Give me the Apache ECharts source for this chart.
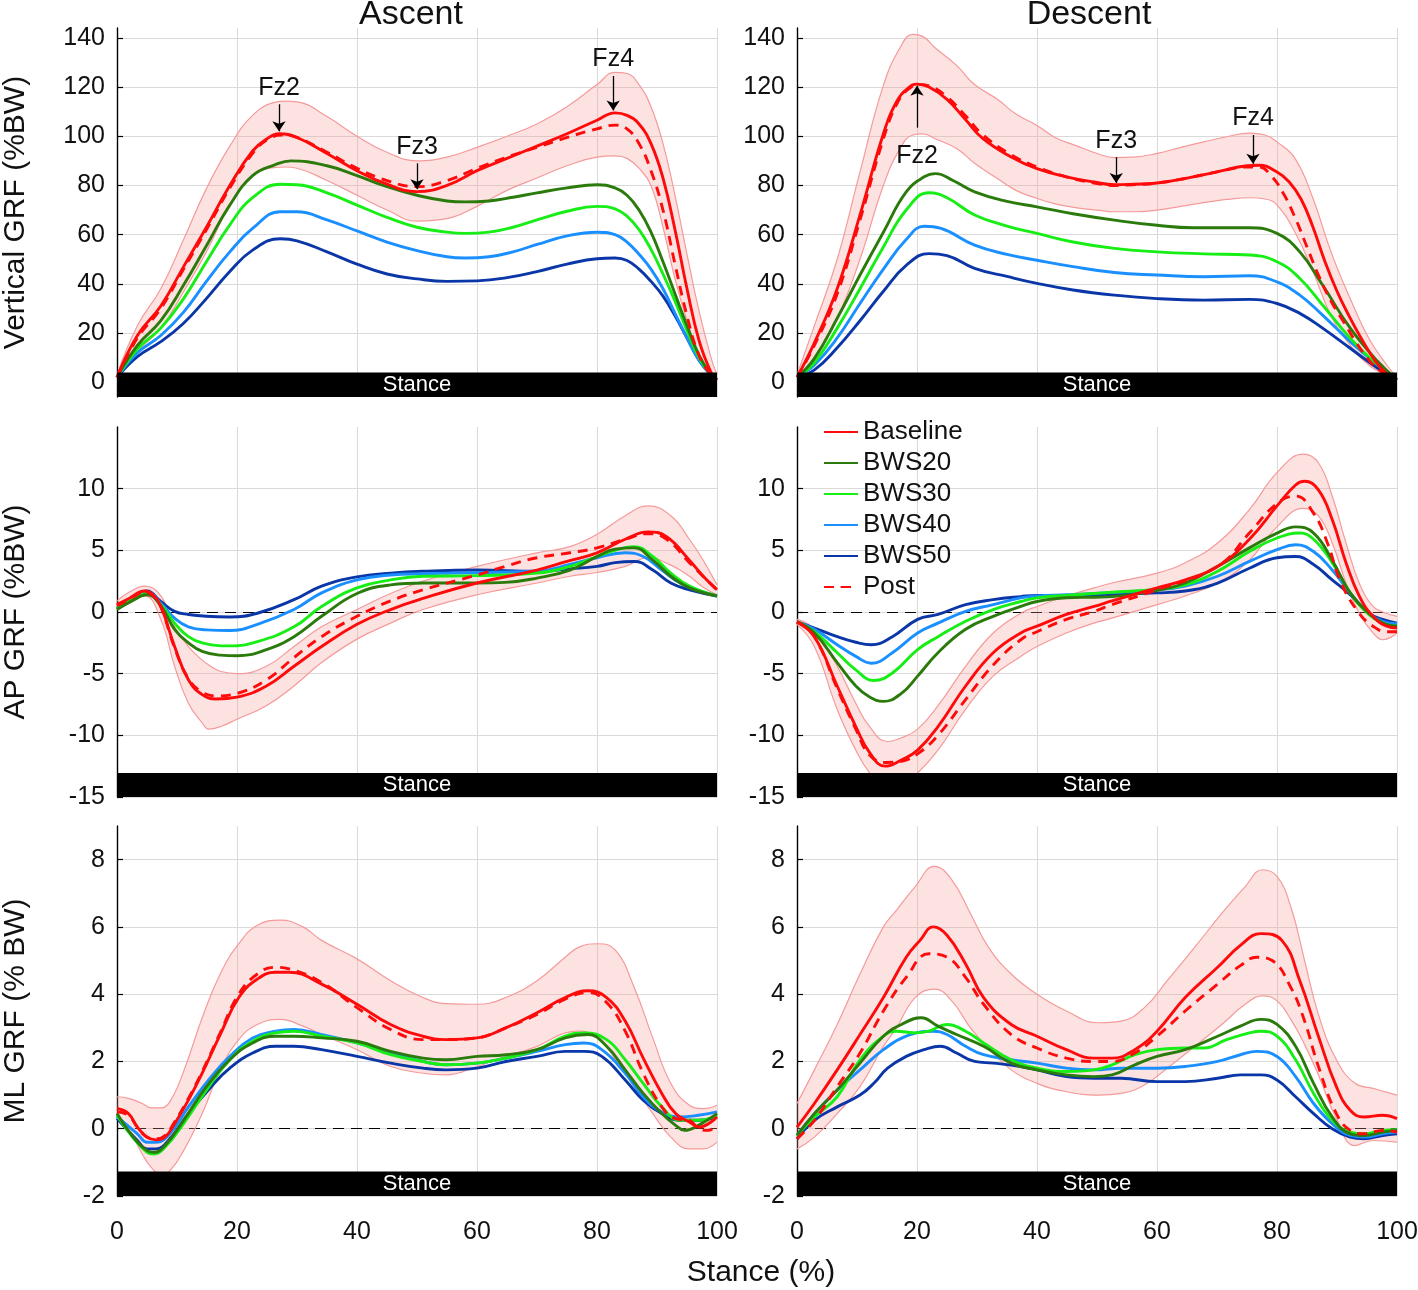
<!DOCTYPE html>
<html><head><meta charset="utf-8">
<script src="https://cdn.jsdelivr.net/npm/echarts@6/dist/echarts.min.js"></script>
<style>html,body{margin:0;padding:0;background:#fff}#c{width:1418px;height:1290px}</style>
</head><body><div id="c"></div>
<script>
// ---------- Vertical GRF, Ascent ----------
const vA_base = [[0,2],[3.4,19],[7.3,31],[11.1,47],[14.9,63],[18.8,80],[22.6,94],[25,99],[27,101],[30,99.5],[35,93],[40,86],[45,80.5],[50,77.5],[55,80],[60,86],[65,91],[70,96],[75,101],[80,106.5],[83,109.5],[85,108.5],[87,105],[89,97],[91,83],[93,62],[95,38],[97,17],[99,4],[100,1]];
const vA_post = [[0,2],[3.4,18],[7.3,30],[11.1,46],[14.9,62],[18.8,79],[22.6,93],[25,98.5],[27.5,100.5],[30,99.5],[35,93.5],[40,87],[45,82],[50,79.5],[55,82],[60,87],[65,91.5],[70,95.5],[75,99.5],[80,103],[83,104.5],[85,103],[87,97],[89,86],[91,70],[93,48],[95,27],[97,11],[99,3],[100,1]];
const vA_bws20 = [[0,2],[3.4,15],[7.3,25],[11.1,39.5],[14.9,55.5],[18.8,72],[22.6,84],[26.4,88.5],[29,90],[35,88],[40,84],[45,79.5],[50,76],[55,73.7],[58,73.3],[62,73.7],[66,75.2],[70,77],[75,79],[80,80.3],[83,79],[85,76],[87,70],[89,61],[91,49],[93,36],[95,23],[97,11],[99,3],[100,1]];
const vA_bws30 = [[0,2],[3.4,13.5],[7.3,22],[11.1,34],[14.9,49],[18.8,64],[22.6,75],[27.2,80.5],[30,80.3],[35,77],[40,72],[45,67],[50,63],[55,61],[58,60.5],[62,61],[66,63],[70,66],[75,69.5],[80,71.5],[83,70.5],[85,67.5],[87,62],[89,54],[91,44],[93,33],[95,21],[97,10],[99,3],[100,1]];
const vA_bws40 = [[0,2],[3.4,12],[7.3,19],[11.1,28.5],[14.9,41],[18.8,53],[22.6,62.5],[27.2,69.3],[30,69.3],[35,66],[40,61.5],[45,57],[50,53.5],[55,51],[58,50.5],[62,51],[66,53],[70,56],[75,59.5],[80,61],[83,60],[85,57],[87,52],[89,46],[91,38],[93,28],[95,18],[97,9],[99,3],[100,1]];
const vA_bws50 = [[0,2],[3.4,10.4],[7.3,16.5],[11.1,24],[14.9,34],[18.8,45],[22.6,53.7],[27.2,58.3],[30,57.5],[35,53],[40,48],[45,44],[50,42],[55,41],[60,41.2],[65,42.5],[70,45],[75,48],[80,50.2],[83,50.5],[85,49.5],[87,46],[89,41],[91,35],[93,27],[95,18],[97,9],[99,3],[100,1]];
const vA_bandX  = [0,3.4,7.3,11.1,14.9,18.8,22.6,26.4,28,30,35,40,45,50,55,60,65,70,75,80,83,85,87,89,91,93,95,97,99,100];
const vA_bandHi = [3,23,38,58,78.7,96,108.5,113.9,114.3,114,108,100,93.5,90,91.5,95.5,100,105,112,121,126,125.5,121,112,97,76,52,29,10,3];
const vA_bandLo = [1,12.4,22,36.8,53,72,84,87.3,87.5,87,82,76,70,65.5,66.5,71.5,78,83,88,91.5,92,91,87,80,63,42,25,11,3,0];

// ---------- Vertical GRF, Descent ----------
const vD_base = [[0,2],[2.9,16],[6.7,38],[10.5,68],[14.4,101],[16.6,114],[18.5,119.5],[20,121.2],[22,120],[25,115],[28,107],[31,99],[35.7,91.6],[40,86.8],[44.9,83.5],[49.5,81.4],[53,80.3],[56,80.5],[60,81],[65,83],[70,85.5],[75,88],[77,88.2],[80,85.5],[82,81.5],[84,74.5],[86,63],[88,49],[90,37],[92,27],[94,18],[96,10],[98,4],[100,1]];
const vD_post = [[0,2],[2.9,15],[6.7,36],[10.5,66],[14.4,99],[16.6,113],[18.5,119],[20.5,121],[22,120.5],[25,116],[28,108.5],[31,100.5],[35.7,92.5],[40,87.5],[44.9,83.5],[49.5,81],[53,80],[56,80.3],[60,81],[65,83],[70,85.5],[75,87.5],[77,87.5],[79,84],[81,77],[83,67],[85,55],[87,43],[89,33],[91,25],[93,17],[95,10],[97,5],[100,1]];
const vD_bws20 = [[0,2],[2.9,9.7],[6.7,26],[10.5,43.6],[14.4,61],[18.2,77.4],[21.2,83.5],[23.1,84.8],[26,82],[29.6,77.4],[35,73.5],[40,71.3],[46,68.5],[52.9,65.9],[60,63.8],[66,62.8],[70,62.8],[75.4,62.8],[80,60.5],[83.8,53],[87.6,39.5],[92.2,22],[96.8,8.4],[100,1]];
const vD_bws30 = [[0,2],[2.9,8],[6.7,22],[10.5,38],[14.4,55],[18.2,70],[22,77],[25,75],[29.6,68],[35,63.5],[40,60.5],[46,57],[52.9,54.4],[60,53],[67.8,52.2],[75.4,51.7],[80,49],[83.8,42.2],[87.6,31.4],[92.2,17.9],[96.8,7],[100,1]];
const vD_bws40 = [[0,2],[2.9,7],[6.7,18],[10.5,32],[14.4,46],[18.2,58],[21.2,63.4],[24,62.5],[29.6,55.7],[35,52],[40,49.6],[46,47],[52.9,44.6],[60,43.6],[67.8,42.9],[75.4,43.3],[80,40.8],[83.8,35.4],[87.6,27.3],[92.2,16.5],[96.8,7],[100,1]];
const vD_bws50 = [[0,2],[2.9,5],[6.7,14],[10.5,25],[14.4,37],[18.2,47.5],[22,52.3],[25,51.5],[29.6,46.3],[35,43],[40,40.2],[46,37.5],[52.9,35.4],[60,34],[67.8,33.4],[75.4,33.7],[80,32],[83.8,28],[87.6,22],[92.2,13.8],[96.8,5.7],[100,1]];
const vD_bandX  = [0,2.9,6.7,10.5,14.4,17.4,19.3,21,23,26.6,29.6,33.4,36.5,40,43,46.4,50,52.9,56,60,64,67.8,71.6,75.4,78,80,83,86,89,92.2,95.3,98.3,100];
const vD_bandHi = [3,23,50,85.5,120.7,137,141.4,140.5,136,128.8,121,115,109,104.4,99.5,96.3,93,91.3,91.5,93,95.5,97.7,99.8,101.3,100.5,97.7,91,74.7,53,34,17.9,7,2];
const vD_bandLo = [1,9.7,26,50,80,96,100.5,101,99,95,89,82.8,78,74.7,72.5,71,70,69.3,69.3,70,71.5,73,74.3,75,74.5,72,61,45,27,15,7,2.5,0];

// ---------- AP GRF, Ascent ----------
const apA_base = [[0,0.6],[2,1.1],[4.6,1.7],[6,1.4],[7.3,0.5],[9.6,-2.8],[11.9,-5.5],[14.2,-6.7],[16.5,-7.05],[20,-6.9],[24.9,-6],[29.5,-4.4],[34.1,-2.8],[40,-1.0],[45.6,0.2],[51,1.1],[60,2.35],[70,3.4],[75,4.1],[80,4.8],[84.7,5.9],[88.5,6.5],[91.6,6.1],[95.4,4.2],[97.7,2.9],[100,1.8]];
const apA_post = [[0,0.5],[2,1.0],[4.6,1.6],[6,1.3],[7.3,0.4],[9.6,-2.9],[11.9,-5.4],[14.2,-6.5],[16.5,-6.8],[20,-6.6],[24.9,-5.5],[29.5,-3.7],[34.1,-2],[40,-0.35],[45.6,0.9],[51,1.8],[60,3.0],[64.7,3.7],[70,4.4],[75.5,4.8],[80,5.2],[84.7,5.9],[88.5,6.35],[91.6,5.9],[95.4,4.0],[100,1.8]];
const apA_bws20 = [[0,0.2],[2.5,0.9],[5,1.4],[7.3,0.5],[9.6,-1.4],[11.9,-2.5],[14.2,-3.2],[17.2,-3.5],[20,-3.55],[24.9,-3.05],[29.5,-2.0],[34.1,-0.35],[40,1.5],[45.6,2.2],[51,2.35],[60,2.35],[64.7,2.4],[70,2.75],[75.5,3.4],[80,4.5],[83,5.1],[86.2,5.2],[89.3,4.2],[92.3,2.9],[95.4,1.95],[100,1.3]];
const apA_bws30 = [[0,0.3],[2.5,1.0],[5,1.5],[7.3,0.6],[9.6,-0.9],[11.9,-2],[14.2,-2.5],[18.8,-2.75],[23.4,-2.4],[29.5,-1.2],[34.1,0.45],[40,1.95],[45.6,2.6],[51,2.9],[60,2.95],[70,3.15],[75.5,3.7],[80,4.5],[83,5.0],[86.2,5.3],[89.3,4.5],[92.3,3.15],[95.4,2.1],[100,1.3]];
const apA_bws40 = [[0,0.3],[2.5,1.0],[5,1.6],[7.3,0.7],[9.6,-0.5],[11.9,-1.2],[14.9,-1.45],[18.8,-1.5],[23.4,-1.0],[29.5,0.2],[34.1,1.55],[40,2.6],[45.6,3.0],[51,3.1],[60,3.2],[70,3.3],[75.5,3.85],[80,4.4],[84.7,4.8],[87.7,4.5],[90.8,3.4],[93.9,2.35],[100,1.3]];
const apA_bws50 = [[0,0.3],[2.5,1.0],[5,1.7],[7.3,0.85],[9.6,0.05],[11.9,-0.2],[14.9,-0.35],[18.8,-0.4],[23.4,-0.1],[29.5,1.0],[34.1,2.1],[40,2.85],[45.6,3.15],[51,3.3],[60,3.4],[70,3.3],[75.5,3.5],[80,3.7],[83,4.0],[86.2,4.1],[89.3,3.4],[92.3,2.35],[95.4,1.8],[100,1.3]];
const apA_bandX  = [0,2,4.6,7.3,9.6,11.9,14.2,15.3,17.2,20,24.9,29.5,34.1,40,45.6,51,60,70,75.5,80,84.7,88.5,92.3,95.4,97.7,100];
const apA_bandHi = [0.9,1.6,2.1,1.3,-1.2,-2.8,-3.9,-4.3,-4.8,-5.0,-4.4,-2.8,-1.2,0.2,1.5,2.5,3.7,4.8,5.3,6.3,7.8,8.6,7.8,5.9,4.2,2.2];
const apA_bandLo = [0.2,0.7,1.3,-0.6,-4.4,-7.4,-9.0,-9.5,-9.3,-8.7,-7.6,-6,-4.1,-2.2,-0.9,0.2,1.4,2.35,2.9,3.2,3.7,4.4,3.8,2.9,2.0,1.4];

// ---------- AP GRF, Descent ----------
const apD_base = [[0,-0.8],[2.9,-2.0],[6.7,-6],[9.8,-9.3],[12.1,-11.4],[14.7,-12.5],[17.4,-12],[20.1,-11.2],[23.5,-9.3],[28.1,-6.0],[32.7,-3.3],[37.3,-1.7],[40,-1.15],[44.9,-0.2],[49.5,0.45],[52.5,0.9],[60,1.95],[64.7,2.6],[70.1,3.7],[75.4,5.9],[80,8.6],[83.1,10.3],[84.6,10.6],[86.9,9.9],[89.2,7.5],[91.5,4.0],[93.7,1.3],[96,-0.35],[98.3,-1.15],[100,-1.3]];
const apD_post = [[0,-0.8],[2.9,-2.0],[6.7,-6.2],[9.8,-9.5],[12.1,-11.6],[14.7,-12.2],[17.4,-12.1],[20.1,-11.5],[23.5,-10],[28.1,-7.1],[32.7,-4.3],[37.3,-2.25],[40,-1.6],[44.9,-0.6],[49.5,0.05],[52.5,0.6],[60,1.8],[70.1,3.7],[75.4,6.4],[80,8.8],[83.1,9.4],[86.1,8.0],[88.4,5.6],[90.7,2.35],[93.7,-0.1],[96,-1.15],[98.3,-1.6],[100,-1.6]];
const apD_bws20 = [[0,-0.8],[2.9,-1.7],[6.7,-4.1],[9.8,-6],[12.1,-6.9],[14.4,-7.25],[17.4,-6.6],[20.1,-5.2],[23.5,-3.3],[28.1,-1.4],[32.7,-0.35],[37.3,0.45],[40,0.85],[44.9,1.15],[49.5,1.2],[52.5,1.25],[60,1.75],[64.7,2.35],[70.1,3.7],[75.4,5.2],[80,6.4],[83.1,6.9],[86.1,6.4],[89.2,4.2],[92.2,1.55],[95.3,-0.1],[97.6,-0.9],[100,-1.15]];
const apD_bws30 = [[0,-0.8],[2.9,-1.6],[6.7,-3.3],[9.8,-4.7],[12.8,-5.55],[15.9,-4.95],[20.1,-3.05],[23.5,-2.0],[28.1,-0.75],[32.7,0.2],[37.3,0.85],[40,1.15],[44.9,1.35],[49.5,1.5],[52.5,1.6],[60,1.85],[64.7,2.2],[70.1,3.3],[75.4,4.9],[80,6.0],[83.8,6.4],[86.1,5.9],[89.2,4.0],[92.2,1.55],[95.3,-0.2],[97.6,-0.9],[100,-1.15]];
const apD_bws40 = [[0,-0.8],[2.9,-1.4],[6.7,-2.65],[9.8,-3.6],[12.4,-4.15],[15.9,-3.3],[20.1,-1.7],[23.5,-0.9],[28.1,0.05],[32.7,0.6],[37.3,1.15],[40,1.3],[44.9,1.4],[49.5,1.5],[60,1.8],[64.7,2.1],[70.1,2.9],[75.4,4.1],[80,5.05],[83.1,5.45],[86.1,4.9],[89.2,3.4],[92.2,1.55],[95.3,-0.1],[97.6,-0.75],[100,-0.95]];
const apD_bws50 = [[0,-0.8],[2.9,-1.3],[6.7,-2.0],[9.8,-2.45],[12.4,-2.65],[15.9,-2.0],[20.1,-0.6],[23.5,-0.2],[28.1,0.6],[32.7,1.0],[37.3,1.25],[40,1.35],[44.9,1.35],[49.5,1.4],[60,1.55],[64.7,1.7],[70.1,2.35],[75.4,3.55],[80,4.4],[83.1,4.5],[86.1,3.85],[89.2,2.6],[92.2,1.4],[95.3,-0.1],[97.6,-0.6],[100,-0.9]];
const apD_bandX  = [0,2.9,6.7,9.8,12.1,15.1,17.4,20.1,23.5,28.1,32.7,37.3,40,44.9,49.5,52.5,60,64.7,70.1,75.4,80,84.4,86.9,89.2,91.5,93.7,96,97.6,100];
const apD_bandHi = [-0.6,-1.4,-4.4,-7.4,-9.3,-10.5,-10.2,-9.5,-7.6,-4.4,-1.7,-0.1,0.45,1.3,1.95,2.35,3.15,4.0,5.6,8.3,11.3,12.8,12.1,9.4,5.6,2.35,0.45,0,-0.35];
const apD_bandLo = [-1.0,-2.8,-7.9,-11.2,-13.05,-14.5,-14,-13.05,-11.2,-7.9,-5.2,-3.6,-2.8,-1.7,-0.9,-0.5,0.6,1.3,2.35,4.2,6.9,8.4,7.8,5.6,2.35,-0.1,-1.7,-2.25,-1.7];

// ---------- ML GRF, Ascent ----------
const mlA_base = [[0,0.6],[1.9,0.45],[3.4,0.05],[5,-0.25],[6.5,-0.33],[8,-0.25],[9.6,0.15],[11.9,0.85],[14.2,1.65],[17.2,2.8],[20.3,3.9],[23.4,4.45],[26.4,4.65],[28.7,4.65],[34.1,4.3],[40,3.7],[45.6,3.1],[51,2.75],[54.8,2.65],[60,2.7],[64.8,3.0],[70,3.45],[74.7,3.9],[78.5,4.1],[81.6,3.9],[84.7,3.2],[87.7,2.1],[90.8,1.05],[93.1,0.45],[95.4,0.2],[97,0.05],[100,0.35]];
const mlA_post = [[0,0.5],[1.9,0.4],[3.4,0.05],[5,-0.25],[6.5,-0.3],[8,-0.2],[9.6,0.2],[11.9,0.9],[14.2,1.7],[17.2,2.85],[20.3,4.0],[23.4,4.6],[26.4,4.8],[28.7,4.75],[34.1,4.35],[40,3.6],[45.6,2.95],[51,2.65],[54.8,2.65],[60,2.7],[64.8,3.0],[70,3.4],[74.7,3.85],[78.5,4.05],[81.6,3.75],[84.7,2.9],[87.7,1.65],[90.8,0.65],[93.1,0.3],[95.4,0.25],[97,0],[98.5,-0.05],[100,0.1]];
const mlA_bws20 = [[0,0.45],[2.7,-0.25],[5,-0.65],[6.1,-0.7],[8,-0.5],[11.1,0.25],[14.9,1.25],[18.8,2.05],[22.6,2.55],[26.4,2.75],[29.5,2.75],[34.1,2.7],[40,2.6],[45.6,2.3],[51,2.1],[54.8,2.05],[60,2.15],[64.8,2.2],[70,2.35],[74.7,2.7],[78.5,2.8],[81.6,2.45],[84.7,1.75],[87.7,1.05],[90.8,0.45],[93.1,0.1],[94.6,-0.05],[96.9,0.1],[100,0.45]];
const mlA_bws30 = [[0,0.4],[5,-0.7],[6.1,-0.75],[8,-0.55],[11.1,0.15],[14.9,1.15],[18.8,2.05],[22.6,2.6],[26.4,2.85],[29.5,2.9],[34.1,2.75],[40,2.55],[45.6,2.2],[51,2.0],[54.8,1.9],[60,1.95],[64.8,2.1],[70,2.35],[74.7,2.75],[77.8,2.85],[81.6,2.65],[84.7,2.05],[87.7,1.35],[90.8,0.65],[93.9,0.25],[96.9,0.25],[100,0.4]];
const mlA_bws40 = [[0,0.35],[3.4,-0.15],[5,-0.4],[6.5,-0.4],[8.8,-0.15],[11.9,0.65],[15.7,1.55],[18.8,2.15],[22.6,2.7],[26.4,2.9],[29.5,2.95],[34.1,2.8],[40,2.55],[45.6,2.25],[51,2.0],[54.8,1.9],[60,1.95],[64.8,2.1],[70,2.3],[74.7,2.5],[77.8,2.55],[80.8,2.35],[84.7,1.65],[87.7,0.95],[90.8,0.5],[93.9,0.35],[96.9,0.4],[100,0.5]];
const mlA_bws50 = [[0,0.3],[3.4,-0.35],[5,-0.6],[6.5,-0.6],[8.8,-0.3],[11.9,0.45],[15.7,1.25],[18.8,1.8],[22.6,2.25],[26.4,2.45],[29.5,2.45],[34.1,2.35],[40,2.15],[45.6,1.95],[51,1.8],[54.8,1.75],[60,1.8],[64.8,2.0],[70,2.15],[74.7,2.3],[77.8,2.3],[80.8,2.15],[84.7,1.45],[87.7,0.85],[90.8,0.45],[93.9,0.25],[96.9,0.25],[100,0.35]];
const mlA_bandX  = [0,1.9,4.2,5.7,7.3,8.8,11.1,14.2,17.2,20.3,23.4,27.2,31,34.1,40,45.6,51,54.8,60,64.8,70,74.7,77,80.1,83.1,86.2,89.3,92.3,95.4,97.7,100];
const mlA_bandHi = [0.95,0.9,0.75,0.62,0.62,0.8,1.7,3.3,4.6,5.5,6.05,6.2,6.0,5.6,5.05,4.4,3.9,3.72,3.7,3.9,4.4,5.1,5.4,5.5,5.3,4.2,2.7,1.35,0.7,0.6,0.7];
const mlA_bandLo = [0.3,0,-0.75,-1.15,-1.35,-1.25,-0.65,0.45,1.75,2.65,3.1,3.25,3.05,2.8,2.35,1.85,1.65,1.6,1.85,2.15,2.45,2.85,2.9,2.7,2.05,1.25,0.45,-0.25,-0.6,-0.6,-0.4];

// ---------- ML GRF, Descent ----------
const mlD_base = [[0,0.05],[2.9,0.75],[6.7,1.75],[10.5,2.8],[14.4,3.9],[18.2,5.1],[20.5,5.6],[22.7,6.0],[25,5.75],[28.1,4.9],[31.1,3.9],[35.7,3.1],[40,2.75],[44.9,2.35],[49.5,2.1],[52.5,2.1],[56.3,2.35],[60,2.9],[64.7,3.9],[70.1,4.8],[73.9,5.45],[77.3,5.8],[80.8,5.6],[83.8,4.4],[86.9,2.75],[89.9,1.25],[92.2,0.55],[94.5,0.35],[97.6,0.4],[100,0.3]];
const mlD_post = [[0,-0.3],[2.9,0.25],[6.7,1.25],[10.5,2.25],[14.4,3.5],[18.2,4.5],[22,5.2],[25,5.1],[28.1,4.5],[31.1,3.7],[35.7,2.8],[40,2.4],[44.9,2.1],[49.5,2.0],[52.5,2.0],[56.3,2.25],[60,2.75],[64.7,3.5],[70.1,4.3],[73.9,4.85],[76.6,5.1],[79.2,5.0],[82.3,4.2],[84.6,3.2],[86.9,1.85],[89.9,0.45],[92.2,-0.05],[94.5,-0.15],[97.6,-0.05],[100,-0.1]];
const mlD_bws20 = [[0,-0.2],[2.9,0.45],[6.7,1.15],[10.5,1.95],[14.4,2.75],[17.4,3.1],[20.7,3.3],[23.5,3.05],[26.6,2.8],[31.1,2.45],[35.7,1.95],[40,1.75],[44.9,1.6],[49.5,1.55],[52.5,1.6],[56.3,1.9],[60,2.15],[64.7,2.35],[70.1,2.75],[73.9,3.05],[77.3,3.25],[80,3.1],[83.1,2.45],[86.1,1.35],[89.2,0.35],[92.2,-0.15],[94.5,-0.2],[97.6,-0.1],[100,-0.05]];
const mlD_bws30 = [[0,-0.2],[2.9,0.35],[6.7,0.95],[10.5,2.05],[14.4,2.75],[16.6,2.9],[19.7,2.85],[22,2.9],[25,3.1],[28.1,2.9],[31.1,2.55],[35.7,2.05],[40,1.8],[44.9,1.7],[49.5,1.75],[52.5,1.9],[56.3,2.2],[60,2.35],[64.7,2.4],[67.8,2.4],[71.6,2.65],[75.4,2.85],[77.3,2.9],[80,2.75],[83.1,2.05],[86.1,1.05],[89.2,0.25],[92.2,-0.1],[94.5,-0.15],[97.6,-0.05],[100,-0.03]];
const mlD_bws40 = [[0,-0.2],[2.9,0.45],[6.7,1.15],[10.5,1.75],[14.4,2.35],[18.2,2.75],[22.7,2.9],[25,2.8],[28.1,2.45],[31.1,2.2],[35.7,2.05],[40,1.95],[44.9,1.8],[49.5,1.75],[54,1.8],[60,1.8],[64.7,1.85],[70.1,2.0],[73.9,2.2],[76.6,2.3],[80,2.15],[83.1,1.55],[86.1,0.75],[89.2,0.15],[92.2,-0.2],[94.5,-0.25],[97.6,-0.15],[100,-0.1]];
const mlD_bws50 = [[0,-0.3],[2.9,0.25],[6.7,0.65],[10.5,1.0],[12.8,1.35],[15.1,1.8],[18.2,2.15],[21.2,2.35],[23.9,2.45],[26.6,2.25],[29.6,2.0],[32.7,1.95],[37.3,1.85],[40,1.75],[44.9,1.55],[49.5,1.5],[54,1.5],[60,1.4],[64.7,1.4],[70.1,1.5],[73.9,1.6],[77.3,1.6],[80,1.45],[83.1,0.95],[86.1,0.45],[89.2,0],[92.2,-0.25],[94.5,-0.3],[97.6,-0.2],[100,-0.15]];
const mlD_bandX  = [0,2.9,6.7,10.5,14.4,16.6,19.7,22.9,25.8,28.9,31.9,35.7,40,44.9,50.2,54,57.9,61.7,66.3,70.8,74.7,77.6,80,82.3,84.6,86.9,89.9,93,96,100];
const mlD_bandHi = [0.75,1.75,3.1,4.6,6.0,6.5,7.2,7.8,7.4,6.4,5.4,4.6,4.0,3.5,3.15,3.2,3.6,4.4,5.4,6.4,7.2,7.7,7.5,6.6,5.0,3.4,2.05,1.35,1.2,1.0];
const mlD_bandLo = [-0.6,-0.25,0.45,1.25,2.45,3.0,3.9,4.15,3.8,3.0,2.4,1.75,1.35,1.1,1.0,1.05,1.3,1.8,2.45,3.1,3.7,3.95,3.8,3.25,2.5,1.6,0.3,-0.5,-0.35,-0.4];

// ---------- Axis ticks & labels ----------
const vertTicks = [0,20,40,60,80,100,120,140];
const apTicks = [-15,-10,-5,0,5,10];
const mlTicks = [-2,0,2,4,6,8];
const seriesNames = ['Baseline','BWS20','BWS30','BWS40','BWS50','Post'];
const colTitles = ['Ascent','Descent'];
const rowNames = ['Vertical GRF (%BW)','AP GRF (%BW)','ML GRF (% BW)'];
const xName = 'Stance (%)';
const barText = 'Stance';
// annotations: [label, x, arrow start y, arrow end y]
const annAscent  = [['Fz2',27,113,102],['Fz3',50,89,78.5],['Fz4',82.7,124.5,110.5]];
const annDescent = [['Fz2',20,103.5,120.5],['Fz3',53.2,91.5,81],['Fz4',76,100.5,88.8]];

// ---------- Build chart ----------
const FONT = '"Liberation Sans", Arial, Helvetica, sans-serif';
const COL = {Baseline:'#ff0a0a', Post:'#ff0a0a', BWS20:'#2a7a0c', BWS30:'#16ee16', BWS40:'#1a8fff', BWS50:'#0a36a8'};
const BAND_EDGE = '#f59a9a', BAND_FILL = 'rgba(247,150,150,0.28)';

const panels = [
  {d:[vA_base,vA_post,vA_bws20,vA_bws30,vA_bws40,vA_bws50,vA_bandX,vA_bandLo,vA_bandHi], min:-6, max:144, ticks:vertTicks, bar:4, zero:false, ann:annAscent},
  {d:[vD_base,vD_post,vD_bws20,vD_bws30,vD_bws40,vD_bws50,vD_bandX,vD_bandLo,vD_bandHi], min:-6, max:144, ticks:vertTicks, bar:4, zero:false, ann:annDescent},
  {d:[apA_base,apA_post,apA_bws20,apA_bws30,apA_bws40,apA_bws50,apA_bandX,apA_bandLo,apA_bandHi], min:-15, max:15, ticks:apTicks, bar:-13.05, zero:true},
  {d:[apD_base,apD_post,apD_bws20,apD_bws30,apD_bws40,apD_bws50,apD_bandX,apD_bandLo,apD_bandHi], min:-15, max:15, ticks:apTicks, bar:-13.05, zero:true},
  {d:[mlA_base,mlA_post,mlA_bws20,mlA_bws30,mlA_bws40,mlA_bws50,mlA_bandX,mlA_bandLo,mlA_bandHi], min:-2, max:9, ticks:mlTicks, bar:-1.27, zero:true},
  {d:[mlD_base,mlD_post,mlD_bws20,mlD_bws30,mlD_bws40,mlD_bws50,mlD_bandX,mlD_bandLo,mlD_bandHi], min:-2, max:9, ticks:mlTicks, bar:-1.27, zero:true}
];
const lefts = [117,797], tops = [28,427,826], heights = [369,370,370];
const grid=[], xAxis=[], yAxis=[], series=[];
const SM = 0.45;

panels.forEach((p,i)=>{
  const row = Math.floor(i/2), col = i%2;
  grid.push({left:lefts[col], top:tops[row], width:600, height:heights[row], containLabel:false, outerBoundsMode:'none'});
  xAxis.push({type:'value', gridIndex:i, min:0, max:100, interval:20,
    axisLine:{show:false}, axisTick:{show:false},
    axisLabel:{show: row===2, fontSize:25, color:'#111', margin:24, fontFamily:FONT},
    splitLine:{show:true, lineStyle:{color:'#dadada', width:1}}});
  yAxis.push({type:'value', gridIndex:i, min:p.min, max:p.max,
    axisLine:{show:true, onZero:false, lineStyle:{color:'#000', width:1.4}},
    axisTick:{show:true, inside:true, length:6, customValues:p.ticks, lineStyle:{color:'#000', width:1.2}},
    axisLabel:{customValues:p.ticks, fontSize:25, color:'#111', margin:12, fontFamily:FONT},
    splitLine:{show:true, lineStyle:{color:'#dadada', width:1}},
    name: col===0 ? rowNames[row] : '', nameLocation:'middle', nameGap:86,
    nameTextStyle:{fontSize:30, color:'#111', fontFamily:FONT}});
  const [base,post,b20,b30,b40,b50,bx,lo,hi] = p.d;
  // SD band: value stored first so that the y dimension is the stacked one
  series.push({type:'line', xAxisIndex:i, yAxisIndex:i, stack:'band'+i, stackStrategy:'all',
    encode:{x:1, y:0},
    data: bx.map((x,k)=>[lo[k], x]), symbol:'none', smooth:SM, silent:true, z:2,
    lineStyle:{color:BAND_EDGE, width:1.2}});
  series.push({type:'line', xAxisIndex:i, yAxisIndex:i, stack:'band'+i, stackStrategy:'all',
    encode:{x:1, y:0},
    data: bx.map((x,k)=>[+(hi[k]-lo[k]).toFixed(3), x]), symbol:'none', smooth:SM, silent:true, z:2,
    lineStyle:{color:BAND_EDGE, width:1.2}, areaStyle:{color:BAND_FILL, opacity:1}});
  // reference line & stance bar
  const dummy = {type:'line', xAxisIndex:i, yAxisIndex:i, data:[], silent:true, z:2,
    markArea:{silent:true, z:10, itemStyle:{color:'#000'},
      label:{show:true, position:'inside', color:'#fff', fontSize:22, fontFamily:FONT, formatter:barText},
      data:[[{xAxis:0, yAxis:p.min},{xAxis:100, yAxis:p.bar}]]}};
  if (p.zero) dummy.markLine = {silent:true, symbol:'none', z:2, label:{show:false},
      lineStyle:{color:'#000', type:[11,7], width:1.1}, data:[{yAxis:0}]};
  series.push(dummy);
  const lines = [['BWS50',b50],['BWS40',b40],['BWS30',b30],['BWS20',b20],['Post',post],['Baseline',base]];
  lines.forEach(([nm,dat])=>{
    const s = {type:'line', name:nm, xAxisIndex:i, yAxisIndex:i, data:dat, symbol:'none', showSymbol:false,
      smooth:SM, z:3,
      itemStyle:{color:COL[nm]},
      lineStyle:{color:COL[nm], width:2.9, type: nm==='Post' ? [10,7] : 'solid'}};
    if (nm==='Baseline' && p.ann) {
      s.markLine = {silent:true, symbol:['none','arrow'], symbolSize:10, z:6,
        lineStyle:{color:'#000', width:1.3, type:'solid'},
        label:{show:true, position:'start', formatter:'{b}', fontSize:25, color:'#111', fontFamily:FONT, distance:4},
        data: p.ann.map(a=>[{name:a[0], coord:[a[1],a[2]], label:{distance: (a[3]>a[2]) ? 16 : 4}},{coord:[a[1],a[3]]}])};
    }
    series.push(s);
  });
});

const chart = echarts.init(document.getElementById('c'), null, {renderer:'canvas'});
chart.setOption({
  animation:false,
  backgroundColor:'#fff',
  textStyle:{fontFamily:FONT},
  grid, xAxis, yAxis, series,
  legend:{data:seriesNames, orient:'vertical', left:818, top:414, itemWidth:34, itemHeight:2, itemGap:5,
    selectedMode:false,
    textStyle:{fontSize:26, color:'#111', fontFamily:FONT}},
  graphic:[
    {type:'text', x:411, y:15, style:{text:colTitles[0], font:'34px '+FONT, fill:'#111', textAlign:'center', textVerticalAlign:'middle'}},
    {type:'text', x:1089, y:15, style:{text:colTitles[1], font:'34px '+FONT, fill:'#111', textAlign:'center', textVerticalAlign:'middle'}},
    {type:'text', x:761, y:1273, style:{text:xName, font:'30px '+FONT, fill:'#111', textAlign:'center', textVerticalAlign:'middle'}}
  ]
});
</script></body></html>
